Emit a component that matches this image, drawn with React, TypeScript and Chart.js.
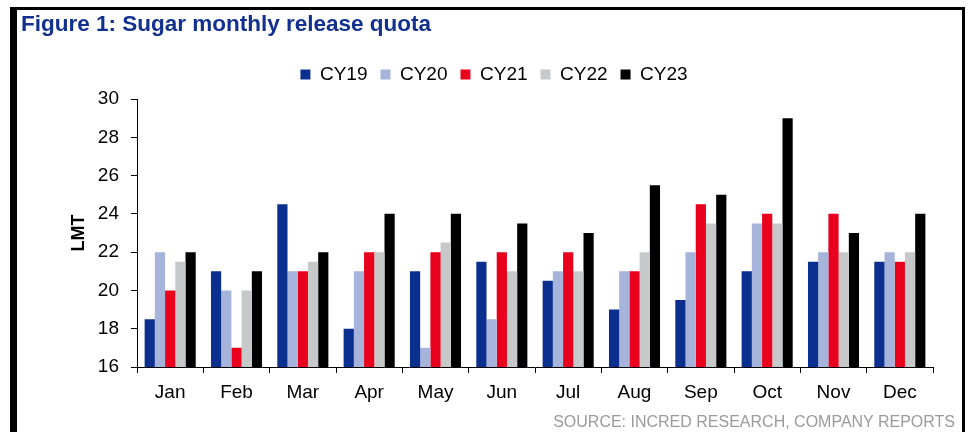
import React, { useEffect, useRef } from 'react';
import { Chart, registerables } from 'chart.js';

Chart.register(...registerables);

const titleText = 'Figure 1: Sugar monthly release quota';
const sourceText = 'SOURCE: INCRED RESEARCH, COMPANY REPORTS';
const yAxisTitle = 'LMT';

const categories = ['Jan', 'Feb', 'Mar', 'Apr', 'May', 'Jun', 'Jul', 'Aug', 'Sep', 'Oct', 'Nov', 'Dec'];
const seriesNames = ['CY19', 'CY20', 'CY21', 'CY22', 'CY23'];
const cy19 = [18.5, 21, 24.5, 18, 21, 21.5, 20.5, 19, 19.5, 21, 21.5, 21.5];
const cy20 = [22, 20, 21, 21, 17, 18.5, 21, 21, 22, 23.5, 22, 22];
const cy21 = [20, 17, 21, 22, 22, 22, 22, 21, 24.5, 24, 24, 21.5];
const cy22 = [21.5, 20, 21.5, 22, 22.5, 21, 21, 22, 23.5, 23.5, 22, 22];
const cy23 = [22, 21, 22, 24, 24, 23.5, 23, 25.5, 25, 29, 23, 24];
const seriesValues = [cy19, cy20, cy21, cy22, cy23];
const seriesColors = ['#0b2f8e', '#a6b3da', '#e8001c', '#c7c8ca', '#000000'];
const yMin = 16;
const yMax = 30;
const yStep = 2;

const FONT = '"Liberation Sans", Arial, Helvetica, sans-serif';

const legendSpacer = {
  id: 'legendSpacer',
  beforeLayout(chart: any) {
    const lg = chart.legend;
    if (lg && !lg._patched) {
      const orig = lg.fit;
      lg.fit = function () {
        orig.call(this);
        this.height += 5;
      };
      lg._patched = true;
    }
  },
};

export default function App() {
  const canvasRef = useRef<HTMLCanvasElement | null>(null);

  useEffect(() => {
    const canvas = canvasRef.current;
    if (!canvas) return;
    const chart = new Chart(canvas, {
      type: 'bar',
      data: {
        labels: categories,
        datasets: seriesNames.map((name, i) => ({
          label: name,
          data: seriesValues[i],
          backgroundColor: seriesColors[i],
          borderWidth: 0,
          categoryPercentage: 0.77,
          barPercentage: 1.0,
        })),
      },
      options: {
        responsive: false,
        animation: false,
        devicePixelRatio: 1,
        layout: { padding: { left: 55, right: 38, top: 52, bottom: 25 } },
        plugins: {
          legend: {
            display: true,
            position: 'top',
            labels: {
              boxWidth: 10,
              boxHeight: 10,
              padding: 13,
              color: '#000',
              font: { family: FONT, size: 19 },
            },
          },
          tooltip: { enabled: false },
          title: { display: false },
        },
        scales: {
          x: {
            grid: {
              display: true,
              drawOnChartArea: false,
              drawTicks: true,
              tickLength: 6,
              color: '#000',
              offset: true,
            },
            border: { display: true, color: '#000', width: 1 },
            ticks: {
              color: '#000',
              font: { family: FONT, size: 19 },
              padding: 8,
              maxRotation: 0,
            },
            afterFit(scale: any) {
              scale.height = 40;
            },
          },
          y: {
            min: yMin,
            max: yMax,
            grid: {
              display: true,
              drawOnChartArea: false,
              drawTicks: true,
              tickLength: 6,
              color: '#000',
            },
            border: { display: true, color: '#000', width: 1 },
            ticks: {
              stepSize: yStep,
              color: '#000',
              font: { family: FONT, size: 19 },
              padding: 12,
            },
            title: {
              display: true,
              text: yAxisTitle,
              color: '#000',
              font: { family: FONT, size: 18, weight: 'bold' },
              padding: { top: 13, bottom: 0 },
            },
            afterFit(scale: any) {
              scale.width = 82;
            },
          },
        },
      },
      plugins: [legendSpacer],
    } as any);
    return () => chart.destroy();
  }, []);

  return (
    <div
      style={{
        position: 'fixed',
        left: 0,
        top: 0,
        width: 971,
        height: 432,
        background: '#fff',
        overflow: 'hidden',
      }}
    >
      <canvas
        ref={canvasRef}
        width={971}
        height={432}
        style={{ position: 'absolute', left: 0, top: 0, width: 971, height: 432 }}
      />
      <div style={{ position: 'absolute', left: 10, top: 7, width: 955, height: 3, background: '#000' }} />
      <div style={{ position: 'absolute', left: 10, top: 7, width: 7, height: 425, background: '#000' }} />
      <div style={{ position: 'absolute', left: 962, top: 7, width: 3, height: 425, background: '#000' }} />
      <div
        style={{
          position: 'absolute',
          left: 21,
          top: 13,
          height: 22,
          lineHeight: '22px',
          fontFamily: FONT,
          fontWeight: 'bold',
          fontSize: 22.5,
          color: '#11308f',
          whiteSpace: 'nowrap',
        }}
      >
        {titleText}
      </div>
      <div
        style={{
          position: 'absolute',
          right: 16,
          top: 414,
          height: 16,
          lineHeight: '16px',
          fontFamily: FONT,
          fontSize: 16,
          color: '#9b9b9b',
          whiteSpace: 'nowrap',
        }}
      >
        {sourceText}
      </div>
    </div>
  );
}
